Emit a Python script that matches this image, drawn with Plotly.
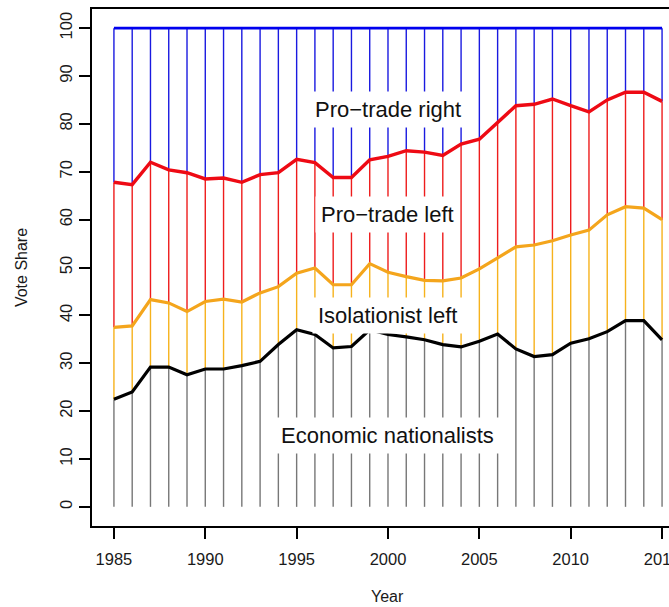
import plotly.graph_objects as go

# Cumulative vote share boundaries by year (stacked: nationalists, + isolationist left, + pro-trade left)
years = list(range(1985, 2016))
econ_nationalists = [22.5, 24.0, 29.2, 29.2, 27.6, 28.8, 28.8, 29.5, 30.4, 33.9,
                     37.0, 36.0, 33.2, 33.5, 37.0, 36.0, 35.5, 34.9, 33.9, 33.4,
                     34.6, 36.1, 33.0, 31.4, 31.8, 34.2, 35.1, 36.6, 38.9, 38.9, 34.9]
isolationist_left_cum = [37.5, 37.8, 43.3, 42.6, 40.8, 42.9, 43.4, 42.8, 44.7, 46.0,
                         48.8, 49.9, 46.4, 46.4, 50.8, 49.0, 48.1, 47.3, 47.2, 47.8,
                         49.7, 52.0, 54.3, 54.7, 55.6, 56.8, 57.8, 61.0, 62.7, 62.4, 60.0]
pro_trade_left_cum = [67.8, 67.3, 72.0, 70.4, 69.8, 68.5, 68.7, 67.8, 69.4, 69.8,
                      72.6, 71.9, 68.8, 68.8, 72.5, 73.2, 74.4, 74.1, 73.4, 75.8,
                      76.8, 80.3, 83.8, 84.1, 85.2, 83.8, 82.5, 85.0, 86.6, 86.6, 84.7]
total = [100.0] * len(years)
floor = [0.0] * len(years)

group_labels = ["Pro\u2212trade right", "Pro\u2212trade left", "Isolationist left", "Economic nationalists"]
label_x = [2000, 2000, 2000, 2000]
label_y = [83, 61, 40, 15]

x_ticks = [1985, 1990, 1995, 2000, 2005, 2010, 2015]
y_ticks = [0, 10, 20, 30, 40, 50, 60, 70, 80, 90, 100]

FONT = "Liberation Sans, Arial, sans-serif"
TEXT = "#1a1a1a"


def segments(lo, hi):
    xs, ys = [], []
    for yr, a, b in zip(years, lo, hi):
        xs += [yr, yr, None]
        ys += [a, b, None]
    return xs, ys


fig = go.Figure()

# Thin vertical bars for each band
bands = [
    (floor, econ_nationalists, "#777777"),
    (econ_nationalists, isolationist_left_cum, "#f6b21c"),
    (isolationist_left_cum, pro_trade_left_cum, "#ee1c1c"),
    (pro_trade_left_cum, total, "#1a1ae0"),
]
for lo, hi, col in bands:
    xs, ys = segments(lo, hi)
    fig.add_trace(go.Scatter(x=xs, y=ys, mode="lines",
                             line=dict(color=col, width=1.4),
                             hoverinfo="skip", showlegend=False))

# Boundary lines
for series, col, w in [
    (total, "#0000ee", 2.6),
    (pro_trade_left_cum, "#ee0a14", 3.4),
    (isolationist_left_cum, "#f4a51c", 3.2),
    (econ_nationalists, "#000000", 3.2),
]:
    fig.add_trace(go.Scatter(x=years, y=series, mode="lines",
                             line=dict(color=col, width=w),
                             showlegend=False))

for txt, lx, ly in zip(group_labels, label_x, label_y):
    fig.add_annotation(x=lx, y=ly, text=txt, showarrow=False,
                       xanchor="center", yanchor="middle",
                       font=dict(family=FONT, size=22, color="#111111"),
                       bgcolor="white", borderpad=5)

# x-axis title, centred on the full (partly off-page) axis span
fig.add_annotation(x=2000, xref="x", y=-0.137, yref="paper", text="Year",
                   showarrow=False, xanchor="center", yanchor="middle",
                   font=dict(family=FONT, size=16, color=TEXT))

fig.update_layout(
    width=669, height=607,
    margin=dict(l=92, r=0, t=9, b=81, autoexpand=False),
    paper_bgcolor="white", plot_bgcolor="white",
    font=dict(family=FONT, color=TEXT),
    showlegend=False,
    xaxis=dict(
        range=[1983.8, 2015.38], tickvals=x_ticks,
        showgrid=False, zeroline=False, automargin=False,
        showline=True, mirror=True, linecolor="black", linewidth=2,
        ticks="outside", ticklen=11, tickwidth=1.5, tickcolor="black",
        tickfont=dict(size=16.5, family=FONT, color=TEXT),
        ticklabelstandoff=6, ticklabeloverflow="allow",
    ),
    yaxis=dict(
        range=[-4, 104], tickvals=y_ticks,
        showgrid=False, zeroline=False, automargin=False,
        showline=True, mirror=False, linecolor="black", linewidth=2,
        ticks="outside", ticklen=11, tickwidth=1.5, tickcolor="black",
        tickangle=-90,
        tickfont=dict(size=16.5, family=FONT, color=TEXT),
        title=dict(text="Vote Share", font=dict(size=16, family=FONT, color=TEXT), standoff=26),
    ),
)

fig.write_html("out.html")
